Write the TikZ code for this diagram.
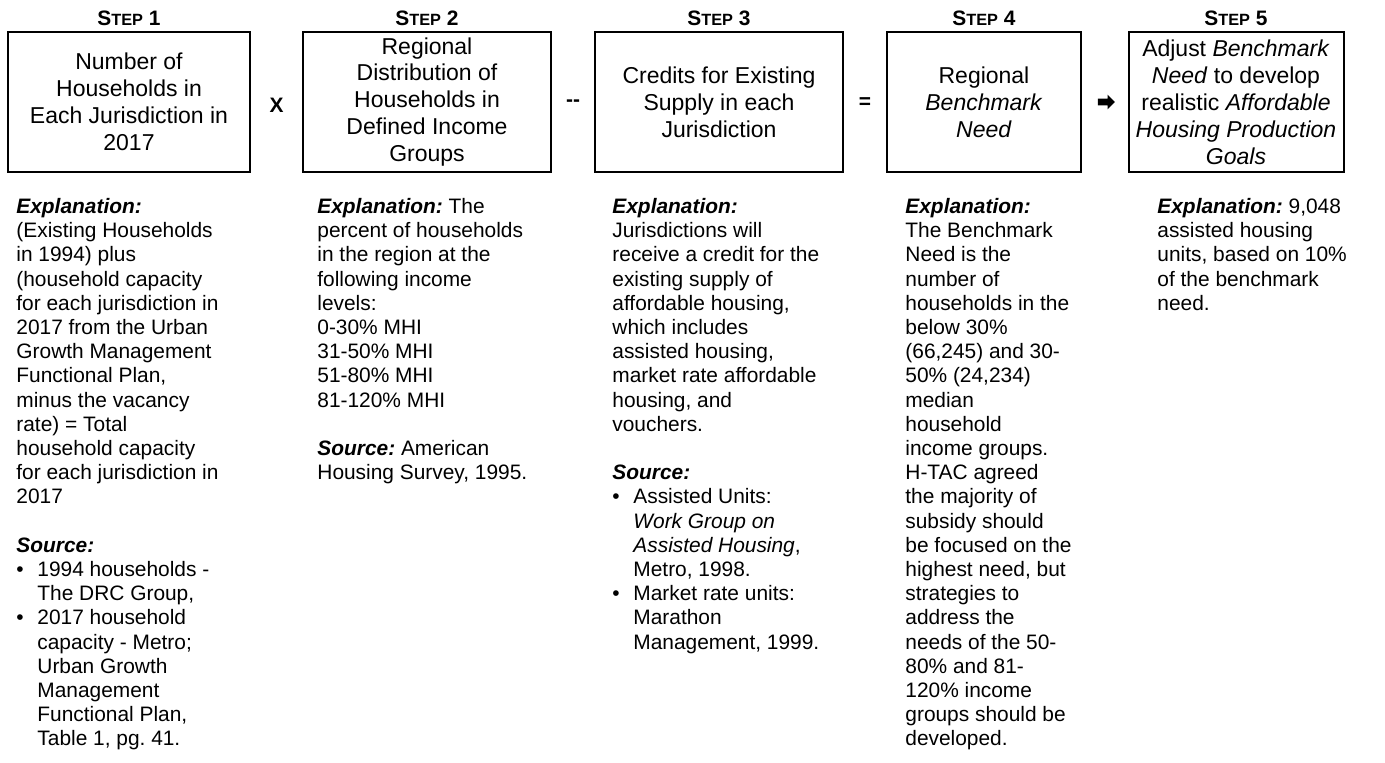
\documentclass[tikz,border=0pt]{standalone}
\usepackage{fontspec}
\setmainfont{Liberation Sans}
\usetikzlibrary{shapes.arrows,calc}
\frenchspacing
\newlength\px
\setlength\px{0.4785pt}
\newcommand\bul{\makebox[21\px][l]{\textbullet}}
\newcommand\ind{\hspace*{21\px}}
\newcommand\hd[1]{\textbf{\textit{#1}}}
\newcommand\steplabel[1]{{\fontsize{10}{12}\selectfont S}{\fontsize{7.8}{10}\selectfont TEP}{\fontsize{10}{12}\selectfont\ #1}}
\tikzset{
  stepbox/.style={draw, line width=2\px, rectangle, inner sep=0pt, align=center,
    minimum height=140\px, font=\fontsize{11}{12.9}\selectfont},
  steplab/.style={font=\bfseries, inner sep=0pt},
  opsym/.style={font=\fontsize{10}{12}\selectfont\bfseries, inner sep=0pt},
  expl/.style={anchor=north west, inner sep=0pt, align=left, font=\fontsize{10}{11.58}\selectfont},
  heavyarrow/.style={single arrow, fill=black, draw=none, inner sep=3\px,
    minimum height=17\px, single arrow head extend=4\px},
}
\begin{document}
\begin{tikzpicture}[x=0.4785pt, y=-0.4785pt]
\frenchspacing
\useasboundingbox (0,0) rectangle (1385,762);
% boxes
\node[stepbox, minimum width=242\px] (b1) at (129,102) {Number of\\Households in\\Each Jurisdiction in\\2017};
\node[stepbox, minimum width=248\px] (b2) at (427,102) {Regional\\Distribution of\\Households in\\Defined Income\\Groups};
\node[stepbox, minimum width=248\px] (b3) at (719,102) {Credits for Existing\\Supply in each\\Jurisdiction};
\node[stepbox, minimum width=194\px] (b4) at (984,102) {Regional\\\textit{Benchmark}\\\textit{Need}};
\node[stepbox, minimum width=215\px] (b5) at (1236,102) {Adjust \textit{Benchmark}\\\textit{Need} to develop\\realistic \textit{Affordable}\\\textit{Housing Production}\\\textit{Goals}};
% step labels
\node[steplab] (s1) at (b1.north |- 0,18) {\steplabel{1}};
\node[steplab] (s2) at (b2.north |- 0,18) {\steplabel{2}};
\node[steplab] (s3) at (b3.north |- 0,18) {\steplabel{3}};
\node[steplab] (s4) at (b4.north |- 0,18) {\steplabel{4}};
\node[steplab] (s5) at (b5.north |- 0,18) {\steplabel{5}};
% operators
\node[opsym] (o1) at ($(b1.east)!0.5!(b2.west)+(0,3)$) {X};
\node[opsym] (o2) at ($(b2.east)!0.5!(b3.west)+(0,1)$) {-{}-};
\node[opsym] (o3) at ($(b3.east)!0.5!(b4.west)+(0,1)$) {=};
\node[heavyarrow] (o4) at ($(b4.east)!0.5!(b5.west)$) {};
% explanations
\node[expl] (e1) at (16,198) {\hd{Explanation:}\\
(Existing Households\\
in 1994) plus\\
(household capacity\\
for each jurisdiction in\\
2017 from the Urban\\
Growth Management\\
Functional Plan,\\
minus the vacancy\\
rate) = Total\\
household capacity\\
for each jurisdiction in\\
2017\\[11.58pt]
\hd{Source:}\\
\bul 1994 households -\\
\ind The DRC Group,\\
\bul 2017 household\\
\ind capacity - Metro;\\
\ind Urban Growth\\
\ind Management\\
\ind Functional Plan,\\
\ind Table 1, pg. 41.};
\node[expl] (e2) at (317,198) {\hd{Explanation:} The\\
percent of households\\
in the region at the\\
following income\\
levels:\\
0-30\% MHI\\
31-50\% MHI\\
51-80\% MHI\\
81-120\% MHI\\[11.58pt]
\hd{Source:} American\\
Housing Survey, 1995.};
\node[expl] (e3) at (612,198) {\hd{Explanation:}\\
Jurisdictions will\\
receive a credit for the\\
existing supply of\\
affordable housing,\\
which includes\\
assisted housing,\\
market rate affordable\\
housing, and\\
vouchers.\\[11.58pt]
\hd{Source:}\\
\bul Assisted Units:\\
\ind\textit{Work Group on}\\
\ind\textit{Assisted Housing},\\
\ind Metro, 1998.\\
\bul Market rate units:\\
\ind Marathon\\
\ind Management, 1999.};
\node[expl] (e4) at (905,198) {\hd{Explanation:}\\
The Benchmark\\
Need is the\\
number of\\
households in the\\
below 30\%\\
(66,245) and 30-\\
50\% (24,234)\\
median\\
household\\
income groups.\\
H-TAC agreed\\
the majority of\\
subsidy should\\
be focused on the\\
highest need, but\\
strategies to\\
address the\\
needs of the 50-\\
80\% and 81-\\
120\% income\\
groups should be\\
developed.};
\node[expl] (e5) at (1157,198) {\hd{Explanation:} 9,048\\
assisted housing\\
units, based on 10\%\\
of the benchmark\\
need.};
\end{tikzpicture}
\end{document}
